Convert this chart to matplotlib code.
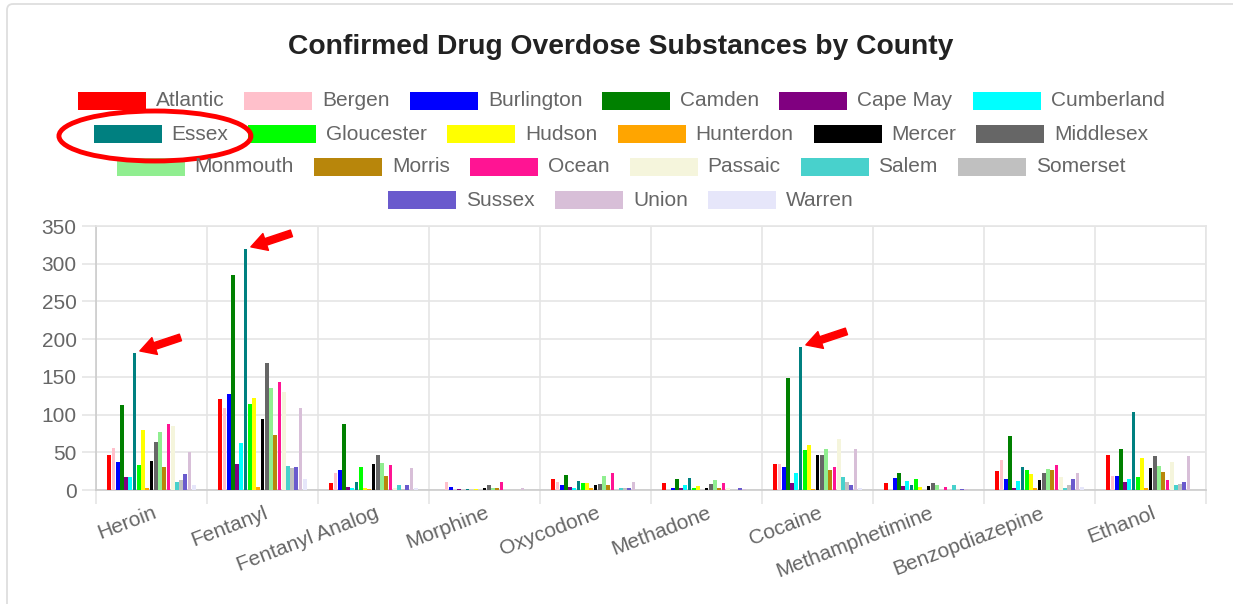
import numpy as np
import matplotlib.pyplot as plt
from matplotlib.patches import Rectangle, Ellipse, FancyBboxPatch
from matplotlib.ticker import MultipleLocator
import matplotlib.transforms as mtransforms

plt.rcParams['font.family'] = ['Liberation Sans', 'DejaVu Sans']

substances = ["Heroin", "Fentanyl", "Fentanyl Analog", "Morphine", "Oxycodone",
              "Methadone", "Cocaine", "Methamphetimine", "Benzopdiazepine", "Ethanol"]
counties = ["Atlantic", "Bergen", "Burlington", "Camden", "Cape May", "Cumberland",
            "Essex", "Gloucester", "Hudson", "Hunterdon", "Mercer", "Middlesex",
            "Monmouth", "Morris", "Ocean", "Passaic", "Salem", "Somerset",
            "Sussex", "Union", "Warren"]
colors = ["#ff0000", "#ffc0cb", "#0000ff", "#008000", "#800080", "#00ffff",
          "#008080", "#00ff00", "#ffff00", "#ffa500", "#000000", "#666666",
          "#90ee90", "#b8860b", "#ff1493", "#f5f5dc", "#48d1cc", "#c0c0c0",
          "#6a5acd", "#d8bfd8", "#e6e6fa"]

# one list per substance, in county order
heroin = [47, 56, 37, 113, 17, 17, 182, 33, 80, 2, 38, 63, 77, 31, 87, 85, 11, 13, 21, 50, 6]
fentanyl = [121, 109, 127, 285, 35, 62, 320, 114, 122, 4, 94, 168, 135, 73, 143, 130, 32, 29, 31, 109, 14]
fentanyl_analog = [9, 23, 27, 87, 4, 2, 10, 31, 3, 1, 35, 46, 36, 18, 33, 2, 7, 1, 6, 29, 3]
morphine = [0, 10, 4, 0, 1, 0, 1, 0, 1, 0, 2, 6, 3, 2, 11, 0, 0, 0, 0, 2, 0]
oxycodone = [15, 10, 7, 20, 4, 2, 12, 9, 9, 3, 6, 8, 18, 7, 22, 0, 2, 2, 2, 11, 0]
methadone = [9, 0, 3, 15, 2, 6, 16, 2, 5, 0, 2, 8, 13, 2, 9, 3, 0, 0, 2, 1, 0]
cocaine = [35, 35, 30, 149, 9, 23, 190, 53, 60, 1, 47, 47, 55, 26, 31, 68, 17, 11, 7, 55, 3]
methamphetimine = [9, 0, 16, 23, 5, 12, 6, 15, 4, 0, 5, 9, 6, 0, 4, 0, 6, 0, 1, 1, 0]
benzodiazepine = [25, 40, 14, 72, 3, 12, 30, 26, 21, 3, 13, 22, 28, 27, 33, 17, 3, 6, 15, 23, 4]
ethanol = [46, 19, 18, 54, 11, 15, 104, 17, 42, 3, 29, 45, 32, 24, 13, 37, 7, 8, 11, 45, 0]

values = np.array([heroin, fentanyl, fentanyl_analog, morphine, oxycodone,
                   methadone, cocaine, methamphetimine, benzodiazepine, ethanol]).T

W, H = 1233, 604
fig = plt.figure(figsize=(W / 100, H / 100), dpi=100)
fig.patch.set_facecolor('white')

# card background / border
bg = fig.add_axes([0, 0, 1, 1], zorder=0)
bg.set_xlim(0, W)
bg.set_ylim(H, 0)
bg.axis('off')
bg.add_patch(FancyBboxPatch((7, 4), 1240, 640, boxstyle='round,pad=0,rounding_size=6',
                            fill=False, edgecolor='#dedede', lw=1.3))

ax = fig.add_axes([96 / W, 1 - 490 / H, (1206 - 96) / W, (490 - 226) / H], zorder=1)
ax.patch.set_alpha(0)

n = len(counties)
x = np.arange(len(substances))
slot = 0.8 / n
for k in range(n):
    ax.bar(x - 0.4 + (k + 0.5) * slot, values[k], width=slot * 0.9,
           color=colors[k], zorder=3)

grid_c = '#e5e5e5'
ax.set_xlim(-0.5, len(substances) - 0.5)
ax.set_ylim(0, 350)
ax.yaxis.set_major_locator(MultipleLocator(50))
ax.set_xticks(x)
ax.set_xticklabels(substances, rotation=21, ha='right', va='center', rotation_mode='anchor')
ax.set_xticks(np.arange(len(substances) + 1) - 0.5, minor=True)
ax.set_axisbelow(True)
ax.grid(axis='y', which='major', color=grid_c, lw=1.2)
ax.grid(axis='x', which='minor', color=grid_c, lw=1.2)
ax.tick_params(axis='x', which='major', length=0, pad=16, labelsize=15, labelcolor='#666666')
ax.tick_params(axis='x', which='minor', length=10, color=grid_c, width=1.2)
ax.tick_params(axis='y', length=10, color=grid_c, width=1.2, pad=4, labelsize=15,
               labelcolor='#666666')
for s in ax.spines.values():
    s.set_color(grid_c)
    s.set_linewidth(1.2)
ax.spines['bottom'].set_color('#cccccc')
ax.spines['left'].set_color('#cccccc')

shift = mtransforms.ScaledTranslation(3 / 72, 0, fig.dpi_scale_trans)
for lab in ax.get_xticklabels():
    lab.set_transform(lab.get_transform() + shift)

# red arrows pointing at the Essex bars
essex = counties.index("Essex")
ex = x - 0.4 + (essex + 0.5) * slot
for i in [0, 1, 6]:
    ax.annotate('', xy=(ex[i], values[essex][i]), xytext=(33, 11), textcoords='offset points',
                arrowprops=dict(arrowstyle='simple,head_length=0.75,head_width=0.85,tail_width=0.33',
                                color='#ff0000', mutation_scale=15, shrinkA=0, shrinkB=4),
                zorder=5)

# overlay for title, legend, ellipse
ov = fig.add_axes([0, 0, 1, 1], zorder=2)
ov.set_xlim(0, W)
ov.set_ylim(H, 0)
ov.axis('off')
ov.patch.set_alpha(0)

cx = 621
ov.text(cx, 47, "Confirmed Drug Overdose Substances by County", ha='center', va='center',
        fontsize=20.3, fontweight='bold', color='#222222')

rows = [range(0, 6), range(6, 12), range(12, 18), range(18, 21)]
renderer = fig.canvas.get_renderer()
box_w, box_h, gap, sep = 68, 18, 10, 20
essex_item = None
for r, idx in enumerate(rows):
    y = 101 + 33 * r
    texts = []
    for k in idx:
        t = ov.text(0, y, counties[k], ha='left', va='center', fontsize=15, color='#666666')
        texts.append(t)
    widths = [t.get_window_extent(renderer).width for t in texts]
    total = sum(box_w + gap + w for w in widths) + sep * (len(widths) - 1)
    xpos = cx - total / 2
    for k, t, w in zip(idx, texts, widths):
        ov.add_patch(Rectangle((xpos, y - box_h / 2), box_w, box_h, facecolor=colors[k],
                               edgecolor='none'))
        t.set_x(xpos + box_w + gap)
        if k == essex:
            essex_item = (xpos, xpos + box_w + gap + w)
        xpos += box_w + gap + w + sep

ov.add_patch(Ellipse(((essex_item[0] + essex_item[1]) / 2 - 6, 136), 192, 50,
                     fill=False, edgecolor='#ff0000', lw=3.5))

fig.savefig('out.png', dpi=100)
